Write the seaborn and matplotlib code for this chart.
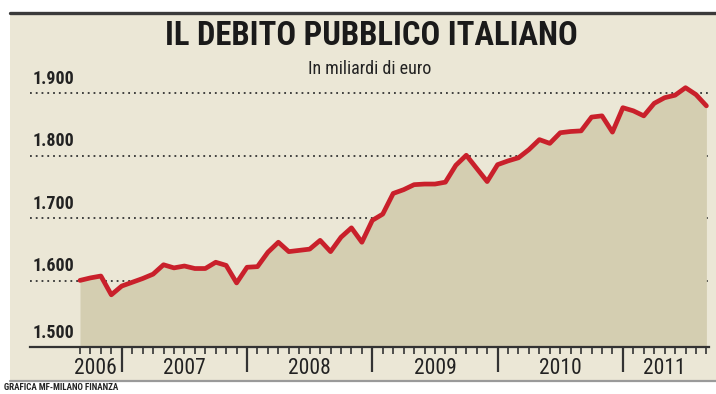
import matplotlib
matplotlib.use("Agg")
import matplotlib.pyplot as plt
import matplotlib.transforms as mtransforms
from matplotlib import font_manager
import seaborn as sns
import pandas as pd

# ---- data (billions of euro, monthly Sep 2006 - Sep 2011) ----
debt_values = [1601, 1605, 1608, 1578, 1592, 1598, 1604, 1611, 1626, 1621,
               1624, 1620, 1620, 1630, 1625, 1597, 1622, 1623, 1646, 1662,
               1647, 1649, 1651, 1665, 1647, 1670, 1685, 1662, 1697, 1707,
               1740, 1746, 1754, 1755, 1755, 1758, 1785, 1801, 1780, 1759,
               1786, 1792, 1797, 1810, 1826, 1820, 1837, 1839, 1840, 1862,
               1864, 1838, 1877, 1872, 1864, 1884, 1893, 1897, 1909, 1898,
               1880]
start_year = 2006
start_month = 9
year_labels = ["2006", "2007", "2008", "2009", "2010", "2011"]
y_ticks = [1500, 1600, 1700, 1800, 1900]
y_tick_labels = ["1.500", "1.600", "1.700", "1.800", "1.900"]
title = "IL DEBITO PUBBLICO ITALIANO"
subtitle = "In miliardi di euro"
source = "GRAFICA MF-MILANO FINANZA"

months = list(range(len(debt_values)))
df = pd.DataFrame({"mese": months, "debito": debt_values})

# ---- fonts: prefer a condensed family that has a bold face ----
sns.set_theme(style="white")
fonts = font_manager.fontManager.ttflist
cands = {}
for f in fonts:
    if "Narrow" in f.name or "Condensed" in f.name:
        w = f.weight if isinstance(f.weight, int) else (700 if "bold" in str(f.weight) else 400)
        cands.setdefault(f.name, set()).add(w)
narrow = None
pref = ["Liberation Sans Narrow", "Roboto Condensed", "Open Sans Condensed",
        "DejaVu Sans Condensed"]
for p in pref:
    if p in cands and max(cands[p]) >= 600:
        narrow = p
        break
if narrow is None:
    for n, ws in cands.items():
        if max(ws) >= 600:
            narrow = n
            break
if narrow is None and cands:
    narrow = list(cands)[0]
condensed = narrow is not None
if narrow is None:
    narrow = "Liberation Sans"
plt.rcParams["font.family"] = [narrow, "DejaVu Sans"]

W, H = 716, 394
fig = plt.figure(figsize=(W / 100, H / 100), dpi=100)
fig.patch.set_facecolor("white")


def fx(px):
    return px / W


def fy(py):
    return 1 - py / H


cream = "#ebe7d6"
fill_col = "#d4ceb1"
red = "#c9202b"
dark = "#333333"

# panel background and borders
bg = plt.Rectangle((fx(10), fy(381)), fx(706), (381 - 13) / H,
                   transform=fig.transFigure, facecolor=cream,
                   edgecolor="none", zorder=-5)
fig.patches.append(bg)
fig.add_artist(plt.Line2D([fx(10), 1], [fy(13), fy(13)], color="#3a3a3a",
                          lw=2.4, transform=fig.transFigure, zorder=-4))
fig.add_artist(plt.Line2D([fx(10), 1], [fy(381), fy(381)], color="#9a9a9a",
                          lw=1.6, transform=fig.transFigure, zorder=-4))

# main axes
ax_left, ax_right, ax_bottom, ax_top = 30, 709, 347, 60
ax = fig.add_axes([fx(ax_left), fy(ax_bottom), fx(ax_right - ax_left),
                   (ax_bottom - ax_top) / H])
ax.set_facecolor("none")
ax.set_zorder(2)

px_per_month = 10.44
x0_px = 80
xl = (ax_left - x0_px) / px_per_month
xr = (ax_right - x0_px) / px_per_month
ppu = 0.6257
ymin = 1500 - (347 - 343.6) / ppu
ymax = ymin + (ax_bottom - ax_top) / ppu
ax.set_xlim(xl, xr)
ax.set_ylim(ymin, ymax)

# gridlines
for v in y_ticks[1:]:
    ax.axhline(v, color=dark, lw=1.3, ls=(0, (1, 2.2)), zorder=1)

ax.fill_between(df["mese"], ymin, df["debito"], color=fill_col, lw=0, zorder=2)
sns.lineplot(data=df, x="mese", y="debito", ax=ax, color=red, lw=3.4,
             zorder=3, legend=False)
ax.set_xlabel("")
ax.set_ylabel("")

# y labels inside plot
tr = mtransforms.blended_transform_factory(ax.transAxes, ax.transData)
for v, lab in zip(y_ticks, y_tick_labels):
    off = 9 if v != y_ticks[0] else 3
    ax.text(3 / (ax_right - ax_left), v + off, lab, transform=tr,
            ha="left", va="bottom", fontsize=13 if condensed else 11,
            fontweight="bold", color="#222222")

# x ticks: month minor ticks, year major ticks
first_jan = (12 - start_month + 1) % 12
major = [first_jan + 12 * k for k in range(len(year_labels) - 1)]
minor = [m for m in months if m not in major]
ax.set_xticks(major)
ax.set_xticks(minor, minor=True)
ax.set_xticklabels([])
ax.set_yticks([])
ax.tick_params(axis="x", which="major", direction="out", length=18,
               width=1.6, color=dark, bottom=True)
ax.tick_params(axis="x", which="minor", direction="out", length=5,
               width=1.2, color=dark, bottom=True)
for s in ["top", "left", "right"]:
    ax.spines[s].set_visible(False)
ax.spines["bottom"].set_color(dark)
ax.spines["bottom"].set_linewidth(1.6)

# year labels centred in each year segment (first year: centred on its months)
bounds = [0] + major + [months[-1]]
trx = mtransforms.blended_transform_factory(ax.transData, ax.transAxes)
for i, lab in enumerate(year_labels):
    if i == 0:
        c = (bounds[0] + bounds[1] - 1) / 2
    else:
        c = (bounds[i] + bounds[i + 1]) / 2
    ax.text(c, -21 / (ax_bottom - ax_top), lab, transform=trx, ha="center",
            va="center", fontsize=15.5 if condensed else 13.5, color="#222222")

# titles
fig.text(fx(371), fy(36), title, ha="center", va="center",
         fontsize=23.5 if condensed else 19, fontweight="bold", color="#1a1a1a")
fig.text(fx(370), fy(69), subtitle, ha="center", va="center",
         fontsize=13 if condensed else 11, color="#222222")
fig.text(fx(4), fy(383), source, ha="left", va="top", fontsize=6.5,
         fontweight="bold", color="#222222")

fig.savefig("out.png", dpi=100, facecolor=fig.get_facecolor())
